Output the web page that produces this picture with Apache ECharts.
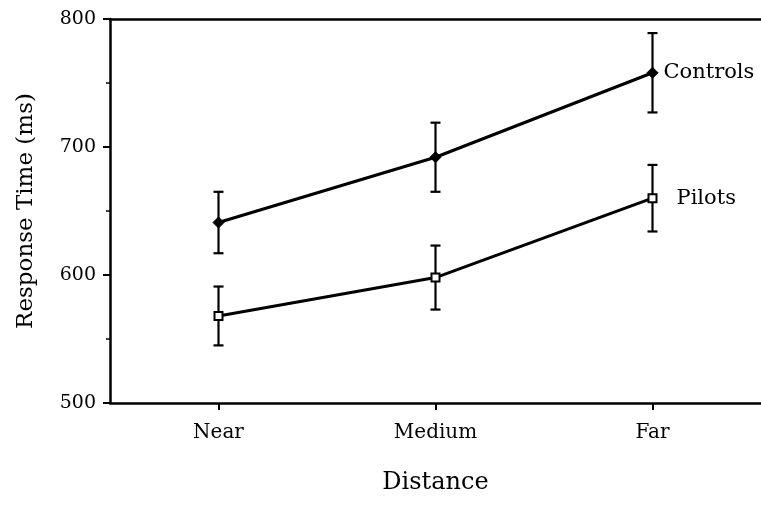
<!DOCTYPE html>
<html>
<head>
<meta charset="utf-8">
<script src="https://cdn.jsdelivr.net/npm/echarts@6/dist/echarts.min.js"></script>
<style>html,body{margin:0;padding:0;background:#fff;}#c{width:761px;height:516px;}</style>
</head>
<body>
<div id="c"></div>
<script>
var categories = ['Near', 'Medium', 'Far'];
var controlsMean = [641, 692, 758];
var controlsErr = [24, 27, 31];
var pilotsMean = [568, 598, 660];
var pilotsErr = [23, 25, 26];
var yTicks = [500, 600, 700, 800];

var FONT = 'DejaVu Serif';
function errData(m, e) {
  return m.map(function (v, i) { return [i, v - e[i], v + e[i]]; });
}
function renderErr(params, api) {
  var x = api.value(0);
  var lo = api.coord([x, api.value(1)]);
  var hi = api.coord([x, api.value(2)]);
  var w = 5;
  var st = { stroke: '#000', lineWidth: 2.2 };
  return {
    type: 'group',
    children: [
      { type: 'line', shape: { x1: lo[0], y1: lo[1], x2: hi[0], y2: hi[1] }, style: st },
      { type: 'line', shape: { x1: lo[0] - w, y1: lo[1], x2: lo[0] + w, y2: lo[1] }, style: st },
      { type: 'line', shape: { x1: hi[0] - w, y1: hi[1], x2: hi[0] + w, y2: hi[1] }, style: st }
    ]
  };
}
function lastLabel(arr, name, offX) {
  return arr.map(function (v, i) {
    if (i === arr.length - 1) {
      return { value: v, label: { show: true, position: 'right', formatter: name, offset: [offX, 0], fontFamily: FONT, fontSize: 21, color: '#000' } };
    }
    return v;
  });
}
var chart = echarts.init(document.getElementById('c'));
chart.setOption({
  backgroundColor: '#fff',
  animation: false,
  grid: { left: 110, right: 0, top: 19, bottom: 113 },
  xAxis: [{
    type: 'category',
    data: categories,
    boundaryGap: true,
    name: 'Distance',
    nameLocation: 'middle',
    nameGap: 68,
    nameTextStyle: { fontFamily: FONT, fontSize: 24, color: '#000' },
    axisLine: { lineStyle: { color: '#000', width: 2.5 } },
    axisTick: { show: true, alignWithLabel: true, length: 7, lineStyle: { color: '#000', width: 2 } },
    axisLabel: { margin: 20, fontFamily: FONT, fontSize: 20, color: '#000' },
    splitLine: { show: false }
  }, {
    type: 'category',
    data: categories,
    position: 'top',
    axisLine: { show: true, lineStyle: { color: '#000', width: 2.5 } },
    axisTick: { show: false },
    axisLabel: { show: false },
    splitLine: { show: false }
  }],
  yAxis: {
    type: 'value',
    min: yTicks[0],
    max: yTicks[yTicks.length - 1],
    interval: 100,
    name: 'Response Time (ms)',
    nameLocation: 'middle',
    nameGap: 72,
    nameTextStyle: { fontFamily: FONT, fontSize: 23, color: '#000' },
    axisLine: { show: true, lineStyle: { color: '#000', width: 2.5 } },
    axisTick: { show: true, length: 7, lineStyle: { color: '#000', width: 2 } },
    minorTick: { show: true, splitNumber: 2, length: 4, lineStyle: { color: '#000', width: 1.5 } },
    axisLabel: { margin: 14, fontFamily: FONT, fontSize: 19, color: '#000' },
    splitLine: { show: false }
  },
  series: [
    {
      name: 'Controls', type: 'line', data: lastLabel(controlsMean, 'Controls', 0),
      symbol: 'diamond', symbolSize: 11,
      lineStyle: { color: '#000', width: 3 },
      itemStyle: { color: '#000', borderColor: '#000', borderWidth: 1 },
      z: 3
    },
    {
      name: 'Pilots', type: 'line', data: lastLabel(pilotsMean, 'Pilots', 14),
      symbol: 'rect', symbolSize: 8,
      lineStyle: { color: '#000', width: 3 },
      itemStyle: { color: '#fff', borderColor: '#000', borderWidth: 2 },
      z: 3
    },
    { type: 'custom', renderItem: renderErr, data: errData(controlsMean, controlsErr), encode: { x: 0, y: [1, 2] }, z: 2 },
    { type: 'custom', renderItem: renderErr, data: errData(pilotsMean, pilotsErr), encode: { x: 0, y: [1, 2] }, z: 2 }
  ]
});
</script>
</body>
</html>
